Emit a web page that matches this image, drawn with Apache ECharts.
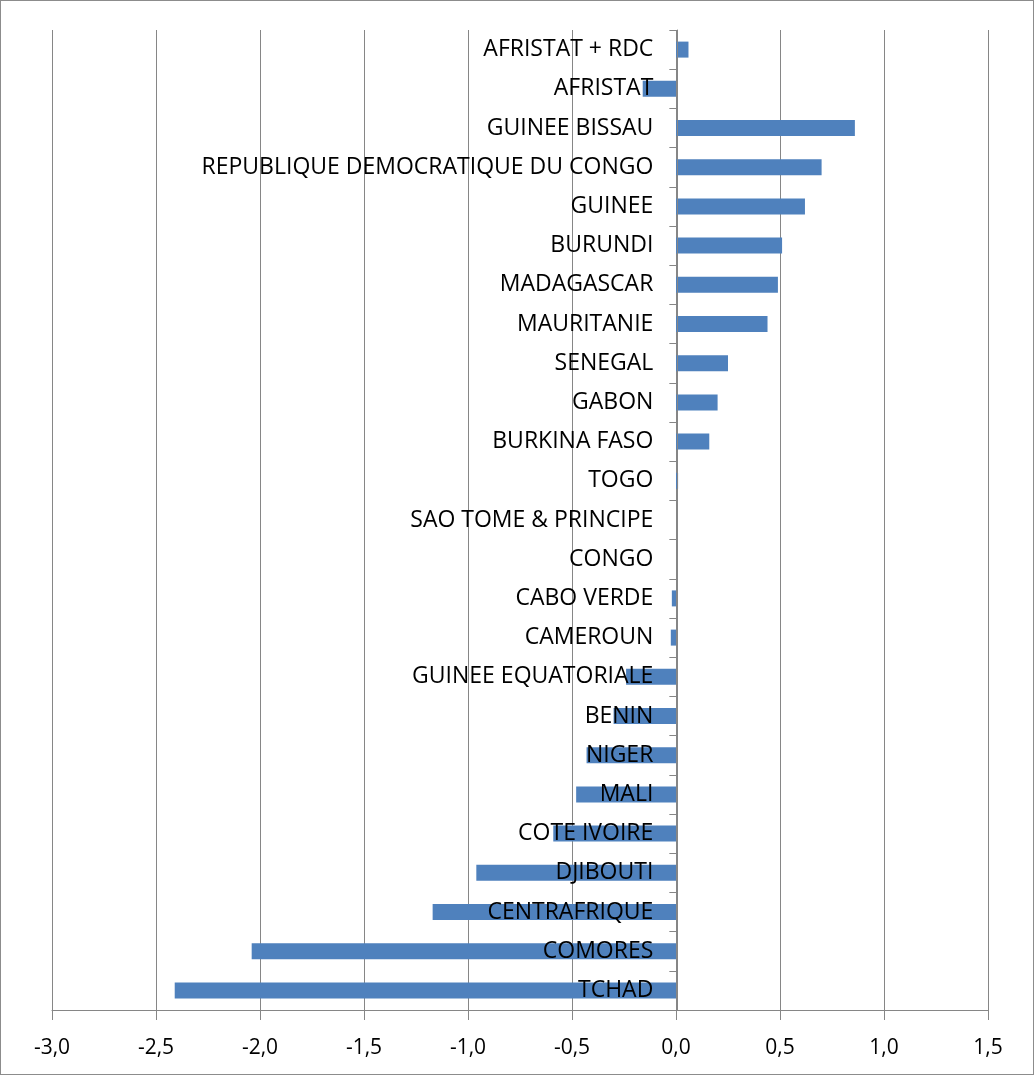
<!DOCTYPE html>
<html>
<head>
<meta charset="utf-8">
<script src="https://cdn.jsdelivr.net/npm/echarts@6/dist/echarts.min.js"></script>
<style>
  html, body { margin: 0; padding: 0; background: #fff; }
  #main { width: 1034px; height: 1075px; box-sizing: border-box; border: 1px solid #8c8c8c; }
</style>
</head>
<body>
<div id="main"></div>
<script>
  // categories top to bottom
  const countries = [
    'AFRISTAT + RDC', 'AFRISTAT', 'GUINEE BISSAU', 'REPUBLIQUE DEMOCRATIQUE DU CONGO',
    'GUINEE', 'BURUNDI', 'MADAGASCAR', 'MAURITANIE', 'SENEGAL', 'GABON',
    'BURKINA FASO', 'TOGO', 'SAO TOME & PRINCIPE', 'CONGO', 'CABO VERDE',
    'CAMEROUN', 'GUINEE EQUATORIALE', 'BENIN', 'NIGER', 'MALI',
    'COTE IVOIRE', 'DJIBOUTI', 'CENTRAFRIQUE', 'COMORES', 'TCHAD'
  ]
  const values = [
    0.06, -0.16, 0.86, 0.70,
    0.62, 0.51, 0.49, 0.44, 0.25, 0.20,
    0.16, 0.01, 0, 0, -0.02,
    -0.025, -0.24, -0.30, -0.43, -0.48,
    -0.59, -0.96, -1.17, -2.04, -2.41
  ]
  const xTicks = { min: -3, max: 1.5, step: 0.5 }

  const chart = echarts.init(document.getElementById('main'))
  const font = 'Open Sans'
  const gridLeft = 51, gridRight = 45
  const plotW = 1034 - gridLeft - gridRight
  // shift the category axis onto x = 0
  const zeroShift = plotW * (0 - xTicks.min) / (xTicks.max - xTicks.min)
  const option = {
    animation: false,
    grid: { left: gridLeft, right: gridRight, top: 29, bottom: 64, containLabel: false, outerBoundsMode: 'none' },
    xAxis: {
      type: 'value',
      min: xTicks.min,
      max: xTicks.max,
      interval: xTicks.step,
      axisLine: { show: true, lineStyle: { color: '#868686', width: 1 } },
      axisTick: { show: true, length: 10, lineStyle: { color: '#868686' } },
      axisLabel: {
        color: '#000', fontFamily: font, fontSize: 21, margin: 28,
        formatter: v => v.toFixed(1).replace('.', ',')
      },
      splitLine: { show: true, lineStyle: { color: '#868686', width: 1 } }
    },
    yAxis: {
      type: 'category',
      inverse: true,
      data: countries,
      offset: -zeroShift,
      z: 5,
      axisLine: { show: true, onZero: false, lineStyle: { color: '#868686' } },
      axisTick: { show: true, length: 8, lineStyle: { color: '#868686' } },
      axisLabel: { color: '#000', fontFamily: font, fontSize: 23, margin: 24 }
    },
    series: [{
      type: 'bar',
      data: values,
      barWidth: 16,
      z: 2,
      itemStyle: { color: '#4f81bd' }
    }]
  }
  chart.setOption(option)
</script>
</body>
</html>
